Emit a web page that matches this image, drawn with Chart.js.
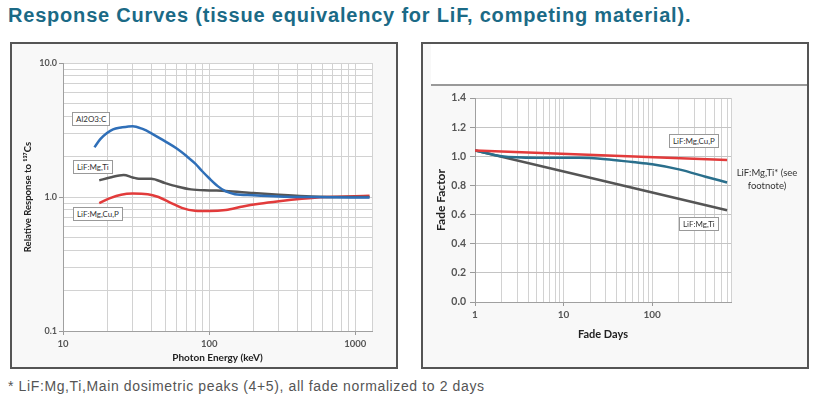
<!DOCTYPE html>
<html>
<head>
<meta charset="utf-8">
<script src="https://cdn.jsdelivr.net/npm/chart.js@4.4.1/dist/chart.umd.min.js"></script>
<style>
  body { margin: 0; width: 833px; height: 407px; background: #fff; position: relative; overflow: hidden; font-family: "Liberation Sans", Arial, sans-serif; }
  .heading { position: absolute; left: 8px; top: 4px; font-size: 20px; letter-spacing: 0.8px; font-weight: bold; color: #1b6a86; white-space: nowrap; }
  .panel { position: absolute; border: 2px solid #555; background: #f8f8f8; }
  .panel canvas { position: absolute; left: 0; top: 0; }
  .tag { position: absolute; font: 8px Lato, "DejaVu Sans", sans-serif; color: #333; background: #fff; border: 1px solid #999; padding: 1px 3px; white-space: nowrap; }
  .note { position: absolute; font: 9.5px Lato, "DejaVu Sans", sans-serif; color: #333; text-align: center; line-height: 13px; }
  .footnote { position: absolute; left: 8px; top: 378px; font-size: 14px; letter-spacing: 0.62px; color: #555; white-space: nowrap; }
</style>
</head>
<body>
<div class="heading">Response Curves (tissue equivalency for LiF, competing material).</div>

<div class="panel" style="left:10px; top:42px; width:384px; height:323px;">
  <canvas id="responseChart" width="384" height="323"></canvas>
</div>
<div class="tag" style="left:72px; top:112px;">Al2O3:C</div>
<div class="tag" style="left:73px; top:160px;">LiF:Mg,Ti</div>
<div class="tag" style="left:73px; top:207px;">LiF:Mg,Cu,P</div>

<div class="panel" style="left:421px; top:42px; width:384px; height:323px;">
  <div style="position:absolute; left:8px; right:0; top:0; height:40px; background:#fff;"></div>
  <div style="position:absolute; left:8px; right:0; top:40px; height:2px; background:#999;"></div>
  <canvas id="fadeChart" width="384" height="323"></canvas>
</div>
<div class="tag" style="left:669px; top:134px;">LiF:Mg,Cu,P</div>
<div class="note" style="left:729px; top:166px; width:76px;">LiF:Mg,Ti* (see<br>footnote)</div>
<div class="tag" style="left:679px; top:217px;">LiF:Mg,Ti</div>

<div class="footnote">* LiF:Mg,Ti,Main dosimetric peaks (4+5), all fade normalized to 2 days</div>

<script>
// ---- Response curves (photon energy in keV, response relative to Cs-137)
const al2o3Energy   = [16.4, 18, 20, 22, 25, 30, 35, 40, 50, 60, 70, 80, 90, 100, 115, 130, 150, 200, 300, 500, 1250];
const al2o3Response = [2.35, 2.7, 3.0, 3.2, 3.3, 3.38, 3.22, 3.0, 2.6, 2.3, 2.02, 1.78, 1.55, 1.38, 1.2, 1.1, 1.05, 1.03, 1.01, 1.0, 0.99];

const lifTiEnergy   = [17.7, 21, 26, 30, 33, 40, 50, 60, 75, 100, 130, 200, 300, 500, 800, 1250];
const lifTiResponse = [1.33, 1.4, 1.46, 1.4, 1.37, 1.37, 1.27, 1.2, 1.14, 1.12, 1.11, 1.07, 1.04, 1.01, 1.0, 1.0];

const lifCuEnergy   = [17.7, 21, 25, 30, 38, 45, 55, 65, 80, 100, 130, 170, 220, 300, 430, 620, 1250];
const lifCuResponse = [0.9, 0.98, 1.04, 1.06, 1.05, 1.0, 0.9, 0.83, 0.79, 0.785, 0.8, 0.85, 0.89, 0.93, 0.97, 1.0, 1.02];

const energyTicks   = [10, 100, 1000];
const responseTicks = [0.1, 1, 10];

// ---- Fade curves (days after irradiation)
const cuFadeDays   = [1, 700];
const cuFade       = [1.04, 0.975];
const tiFadeDays   = [1, 700];
const tiFade       = [1.04, 0.63];
const tiStarDays   = [1, 2, 5, 10, 15, 30, 60, 100, 200, 400, 700];
const tiStarFade   = [1.04, 1.0, 0.99, 0.99, 0.99, 0.98, 0.96, 0.945, 0.91, 0.86, 0.82];

const dayTicks  = [1, 10, 100];
const fadeTicks = [0, 0.2, 0.4, 0.6, 0.8, 1.0, 1.2, 1.4];

const tickFont = { family: 'Lato, "DejaVu Sans", sans-serif', weight: 'bold' };

// gridline positions on a log axis: 1..9 of every decade, plus the axis end
function logGrid(min, max) {
    const out = [];
    for (let d = Math.pow(10, Math.floor(Math.log10(min))); d <= max; d *= 10) {
        for (let k = 1; k <= 9; k++) {
            const v = Number((k * d).toPrecision(6));
            if (v >= min && v <= max) out.push(v);
        }
    }
    if (out[out.length - 1] !== max) out.push(max);
    return out;
}

function series(xs, ys, color) {
    return {
        data: xs.map((x, i) => ({ x: x, y: ys[i] })),
        borderColor: color,
        borderWidth: 2.5,
        pointRadius: 0,
        cubicInterpolationMode: 'monotone',
        fill: false
    };
}

function isMajor(list, v) {
    return list.some(t => Math.abs(t - v) < 1e-9);
}

const plotBackground = {
    id: 'plotBackground',
    beforeDraw(chart) {
        const { ctx, chartArea: a } = chart;
        ctx.save();
        ctx.fillStyle = '#fff';
        ctx.fillRect(a.left, a.top, a.width, a.height);
        ctx.restore();
    }
};

// Left: energy response
new Chart(document.getElementById('responseChart'), {
    type: 'line',
    data: {
        datasets: [
            series(al2o3Energy, al2o3Response, '#2f6fb8'),
            series(lifTiEnergy, lifTiResponse, '#555555'),
            series(lifCuEnergy, lifCuResponse, '#e23b3b')
        ]
    },
    options: {
        responsive: false,
        animation: false,
        layout: { padding: { top: 19, right: 24, left: 0, bottom: 0 } },
        plugins: { legend: { display: false }, tooltip: { enabled: false } },
        scales: {
            x: {
                type: 'logarithmic',
                min: 10,
                max: 1300,
                afterBuildTicks: s => { s.ticks = logGrid(10, 1300).map(v => ({ value: v })); },
                afterFit: s => { s.height = 36; },
                ticks: {
                    autoSkip: false, maxRotation: 0, padding: 3,
                    font: { ...tickFont, size: 9.5 }, color: '#555',
                    callback: v => isMajor(energyTicks, v) ? String(v) : ''
                },
                grid: {
                    color: '#d2d2d2', tickLength: 4,
                    tickColor: c => isMajor(energyTicks, c.tick.value) ? '#999' : 'rgba(0,0,0,0)'
                },
                border: { color: '#a0a0a0' },
                title: {
                    display: true, text: 'Photon Energy (keV)', color: '#222',
                    font: { ...tickFont, size: 10 }, padding: { top: 0, bottom: 3 }
                }
            },
            y: {
                type: 'logarithmic',
                min: 0.1,
                max: 10,
                afterBuildTicks: s => { s.ticks = logGrid(0.1, 10).map(v => ({ value: v })); },
                afterFit: s => { s.width = 51; },
                ticks: {
                    autoSkip: false, padding: 2,
                    font: { ...tickFont, size: 9 }, color: '#555',
                    callback: v => isMajor(responseTicks, v) ? v.toFixed(1) : ''
                },
                grid: {
                    color: '#d2d2d2', tickLength: 4,
                    tickColor: c => isMajor(responseTicks, c.tick.value) ? '#999' : 'rgba(0,0,0,0)'
                },
                border: { color: '#a0a0a0' },
                title: {
                    display: true, text: 'Relative Response to \u00b9\u00b3\u2077Cs', color: '#222',
                    font: { ...tickFont, size: 9.5 }, padding: { top: 10, bottom: 0 }
                }
            }
        }
    },
    plugins: [plotBackground]
});

// Right: fading
new Chart(document.getElementById('fadeChart'), {
    type: 'line',
    data: {
        datasets: [
            series(cuFadeDays, cuFade, '#e23b3b'),
            series(tiStarDays, tiStarFade, '#2a6f8c'),
            series(tiFadeDays, tiFade, '#555555')
        ]
    },
    options: {
        responsive: false,
        animation: false,
        layout: { padding: { top: 54, right: 76, left: 0, bottom: 0 } },
        plugins: { legend: { display: false }, tooltip: { enabled: false } },
        scales: {
            x: {
                type: 'logarithmic',
                min: 1,
                max: 775,
                afterBuildTicks: s => { s.ticks = logGrid(1, 775).map(v => ({ value: v })); },
                afterFit: s => { s.height = 65; },
                ticks: {
                    autoSkip: false, maxRotation: 0, padding: 3,
                    font: { ...tickFont, size: 10 }, color: '#555',
                    callback: v => isMajor(dayTicks, v) ? String(v) : ''
                },
                grid: {
                    color: '#d2d2d2', tickLength: 4,
                    tickColor: c => isMajor(dayTicks, c.tick.value) ? '#999' : 'rgba(0,0,0,0)'
                },
                border: { color: '#a0a0a0' },
                title: {
                    display: true, text: 'Fade Days', color: '#222',
                    font: { ...tickFont, size: 11 }, padding: { top: 0, bottom: 26 }
                }
            },
            y: {
                min: 0,
                max: 1.4,
                afterBuildTicks: s => { s.ticks = fadeTicks.map(v => ({ value: v })); },
                afterFit: s => { s.width = 52; },
                ticks: {
                    padding: 4,
                    font: { ...tickFont, size: 10.5 }, color: '#555',
                    callback: v => v.toFixed(1)
                },
                grid: { color: '#c4c4c4', tickLength: 5, tickColor: '#999' },
                border: { color: '#a0a0a0' },
                title: {
                    display: true, text: 'Fade Factor', color: '#222',
                    font: { ...tickFont, size: 12 }, padding: { top: 11, bottom: 0 }
                }
            }
        }
    },
    plugins: [plotBackground]
});
</script>
</body>
</html>
